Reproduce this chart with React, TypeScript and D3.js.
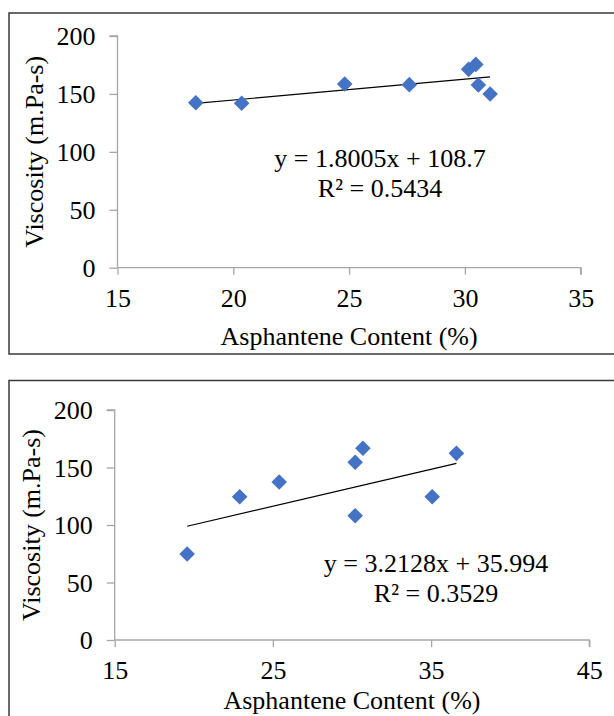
import React, { useRef, useEffect } from "react";
import * as d3 from "d3";

// top chart
const topX = [18.38, 20.36, 24.81, 27.6, 30.16, 30.47, 30.58, 31.09];
const topY = [142.4, 141.9, 158.6, 158.0, 171.2, 175.5, 157.7, 149.9];
const topFit = { slope: 1.8005, intercept: 108.7 };
const topEq = ["y = 1.8005x + 108.7", "R² = 0.5434"];
const topXTicks = [15, 20, 25, 30, 35];

// bottom chart
const botX = [19.58, 22.9, 25.4, 30.2, 30.69, 30.2, 35.07, 36.6];
const botY = [74.8, 124.6, 137.4, 154.5, 166.7, 108.1, 124.6, 162.3];
const botFit = { slope: 3.2128, intercept: 35.994 };
const botEq = ["y = 3.2128x + 35.994", "R² = 0.3529"];
const botXTicks = [15, 25, 35, 45];

const yTicks = [0, 50, 100, 150, 200];
const xTitle = "Asphantene Content (%)";
const yTitle = "Viscosity (m.Pa-s)";

const FONT = "'Liberation Serif', 'Times New Roman', serif";
const AXIS = "#a6a6a6";
const MARK = "#4472c4";

const drawChart = (svg, opt) => {
  const g = svg.append("g");
  const { frame, plot, xs, ys, fit, eq, eqPos, xTicks, xTitleY } = opt;

  // outer frame
  g.append("rect")
    .attr("x", frame.x)
    .attr("y", frame.y)
    .attr("width", frame.w)
    .attr("height", frame.h)
    .attr("fill", "none")
    .attr("stroke", "#3a3a3a")
    .attr("stroke-width", 1.5);

  const x = d3.scaleLinear().domain([xTicks[0], xTicks[xTicks.length - 1]]).range([plot.left, plot.right]);
  const y = d3.scaleLinear().domain([0, 200]).range([plot.bottom, plot.top]);

  // y axis
  const yAxis = g
    .append("g")
    .attr("transform", `translate(${plot.left},0)`)
    .call(d3.axisLeft(y).tickValues(yTicks).tickSize(8).tickSizeOuter(8).tickPadding(14));
  // x axis
  const xAxis = g
    .append("g")
    .attr("transform", `translate(0,${plot.bottom})`)
    .call(d3.axisBottom(x).tickValues(xTicks).tickSize(7).tickSizeOuter(7).tickPadding(14));

  [yAxis, xAxis].forEach((a) => {
    a.select(".domain").attr("stroke", AXIS).attr("stroke-width", 1.3);
    a.selectAll(".tick line").attr("stroke", AXIS).attr("stroke-width", 1.3);
    a.selectAll(".tick text")
      .attr("fill", "#000")
      .attr("font-family", FONT)
      .attr("font-size", 26);
  });
  yAxis.selectAll(".tick text").attr("dy", "0.34em");
  xAxis.selectAll(".tick text").attr("dy", "0.71em");
  // domain paths without the outer caps D3 adds at both ends
  yAxis.select(".domain").attr("d", `M-8,${plot.top}H0V${plot.bottom}`);
  xAxis.select(".domain").attr("d", `M${plot.left},0H${plot.right}V7`);

  // trendline over the data range
  const [x0, x1] = d3.extent(xs);
  g.append("line")
    .attr("x1", x(x0))
    .attr("y1", y(fit.slope * x0 + fit.intercept))
    .attr("x2", x(x1))
    .attr("y2", y(fit.slope * x1 + fit.intercept))
    .attr("stroke", "#000")
    .attr("stroke-width", 1.2);

  // markers
  const sym = d3.symbol().type(d3.symbolDiamond2).size(155);
  g.selectAll(".pt")
    .data(xs.map((v, i) => [v, ys[i]]))
    .join("path")
    .attr("class", "pt")
    .attr("d", sym)
    .attr("transform", (d) => `translate(${x(d[0])},${y(d[1])})`)
    .attr("fill", MARK);

  // equation
  g.selectAll(".eq")
    .data(eq)
    .join("text")
    .attr("class", "eq")
    .attr("x", eqPos.x)
    .attr("y", (d, i) => eqPos.y + i * 30)
    .attr("text-anchor", "middle")
    .attr("font-family", FONT)
    .attr("font-size", 26)
    .text((d) => d);

  // axis titles
  g.append("text")
    .attr("x", (plot.left + plot.right) / 2)
    .attr("y", xTitleY)
    .attr("text-anchor", "middle")
    .attr("font-family", FONT)
    .attr("font-size", 26)
    .text(xTitle);
  const cy = (plot.top + plot.bottom) / 2;
  g.append("text")
    .attr("transform", `translate(${opt.yTitleX},${cy}) rotate(-90)`)
    .attr("text-anchor", "middle")
    .attr("font-family", FONT)
    .attr("font-size", 26)
    .text(yTitle);
};

const App = () => {
  const svgRef = useRef();

  useEffect(() => {
    const svg = d3.select(svgRef.current);
    svg.selectAll("*").remove();

    drawChart(svg, {
      frame: { x: 9, y: 13, w: 610, h: 341 },
      plot: { left: 117.5, right: 580.7, top: 36, bottom: 267.7 },
      xs: topX,
      ys: topY,
      fit: topFit,
      eq: topEq,
      eqPos: { x: 380, y: 167 },
      xTicks: topXTicks,
      xTitleY: 345,
      yTitleX: 43,
    });

    drawChart(svg, {
      frame: { x: 9, y: 380.5, w: 610, h: 400 },
      plot: { left: 114.7, right: 589.3, top: 410, bottom: 640 },
      xs: botX,
      ys: botY,
      fit: botFit,
      eq: botEq,
      eqPos: { x: 436, y: 572 },
      xTicks: botXTicks,
      xTitleY: 709,
      yTitleX: 40,
    });
  }, []);

  return (
    <div style={{ position: "absolute", left: 0, top: 0 }}>
      <svg ref={svgRef} width={614} height={716} style={{ display: "block", background: "#fff" }}></svg>
    </div>
  );
};

export default App;
